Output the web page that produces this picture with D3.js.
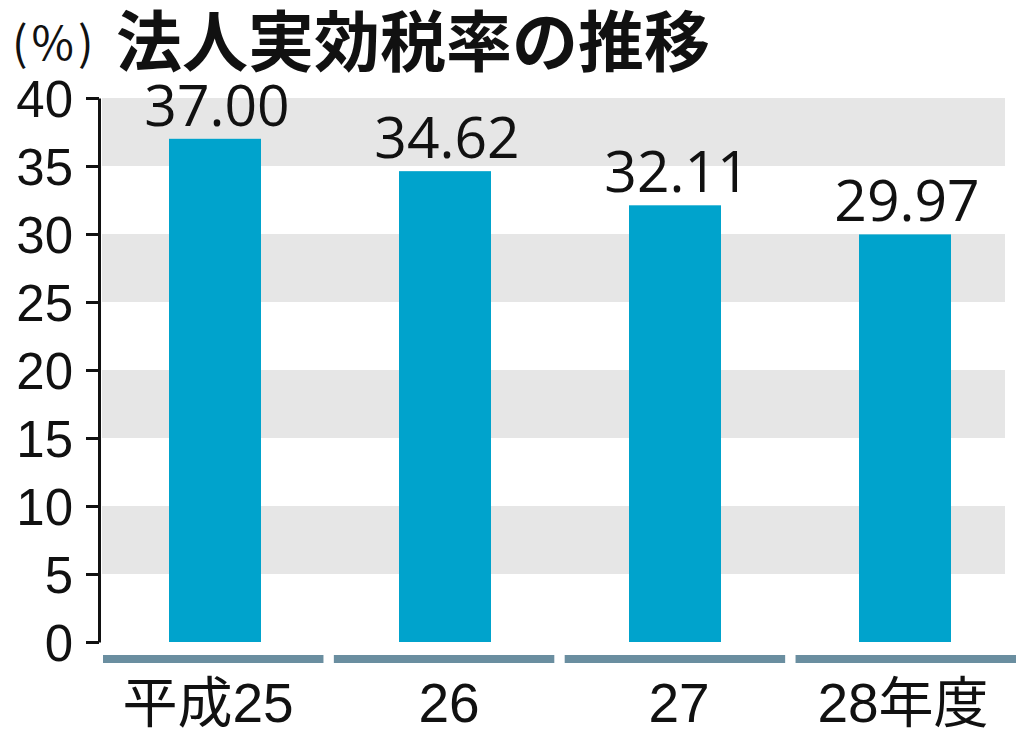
<!DOCTYPE html>
<html><head><meta charset="utf-8">
<script src="https://cdn.jsdelivr.net/npm/d3@7"></script>
<style>body{margin:0;background:#fff}svg{display:block}</style>
</head><body><svg id="c" width="1024" height="733"></svg>
<script>
const categories = ["平成25", "26", "27", "28年度"];
const values = [37.00, 34.62, 32.11, 29.97];
const valueLabels = ["37.00", "34.62", "32.11", "29.97"];
const yTicks = [0, 5, 10, 15, 20, 25, 30, 35, 40];
const bands = [[35, 40], [25, 30], [15, 20], [5, 10]];
const title = "法人実効税率の推移";
const unit = "(%)";

const svg = d3.select("#c");
const y = d3.scaleLinear().domain([0, 40]).range([642, 98]);
const x = d3.scaleBand().domain(categories).range([100, 1020]).paddingInner(0.6).paddingOuter(0.3);
const xSeg = d3.scaleBand().domain(categories).range([103, 1016]).paddingInner(0.045).paddingOuter(0);

svg.append("g").selectAll("rect").data(bands).join("rect")
  .attr("x", 102).attr("width", 903)
  .attr("y", d => y(d[1])).attr("height", d => y(d[0]) - y(d[1]))
  .attr("fill", "#e6e6e6");

svg.append("g").selectAll("rect").data(values).join("rect")
  .attr("x", (d, i) => x(categories[i])).attr("width", x.bandwidth())
  .attr("y", d => y(d)).attr("height", d => y(0) - y(d))
  .attr("fill", "#00a3cc");

svg.append("g").selectAll("text").data(values).join("text")
  .attr("x", (d, i) => x(categories[i]) + x.bandwidth() / 2 + 2)
  .attr("y", d => y(d) - 13)
  .attr("text-anchor", "middle")
  .attr("font-family", "'Open Sans', sans-serif")
  .attr("font-size", 57).attr("fill", "#111")
  .text((d, i) => valueLabels[i]);

const yAxis = svg.append("g").attr("transform", "translate(99,0)")
  .call(d3.axisLeft(y).tickValues(yTicks).tickSize(13).tickSizeOuter(0).tickPadding(13));
yAxis.select(".domain").attr("stroke", "#111").attr("stroke-width", 3);
yAxis.selectAll(".tick line").attr("stroke", "#111").attr("stroke-width", 3);
yAxis.selectAll(".tick text").attr("font-family", "'Liberation Sans', Arial, sans-serif")
  .attr("font-size", 51).attr("fill", "#111").attr("dy", "0.36em");

svg.append("g").selectAll("rect").data(categories).join("rect")
  .attr("x", d => xSeg(d)).attr("width", xSeg.bandwidth())
  .attr("y", 655).attr("height", 8).attr("fill", "#6a8ea0");

svg.append("g").selectAll("text").data(categories).join("text")
  .attr("x", (d, i) => x(d) + x.bandwidth() / 2 + [-7, 4, 4, -2][i])
  .attr("y", 722)
  .attr("text-anchor", "middle")
  .attr("font-family", "'Liberation Sans', 'Noto Sans CJK JP', sans-serif")
  .attr("font-size", 55).attr("fill", "#111")
  .text(d => d);

svg.append("text").attr("x", 12).attr("y", 60)
  .attr("font-family", "'Noto Sans CJK JP', sans-serif")
  .attr("font-size", 46).attr("letter-spacing", 4).attr("fill", "#111").text(unit);
svg.append("text").attr("x", 116).attr("y", 66)
  .attr("font-family", "'Noto Sans CJK JP', sans-serif").attr("font-weight", "bold")
  .attr("font-size", 66).attr("fill", "#111").text(title);
</script></body></html>
